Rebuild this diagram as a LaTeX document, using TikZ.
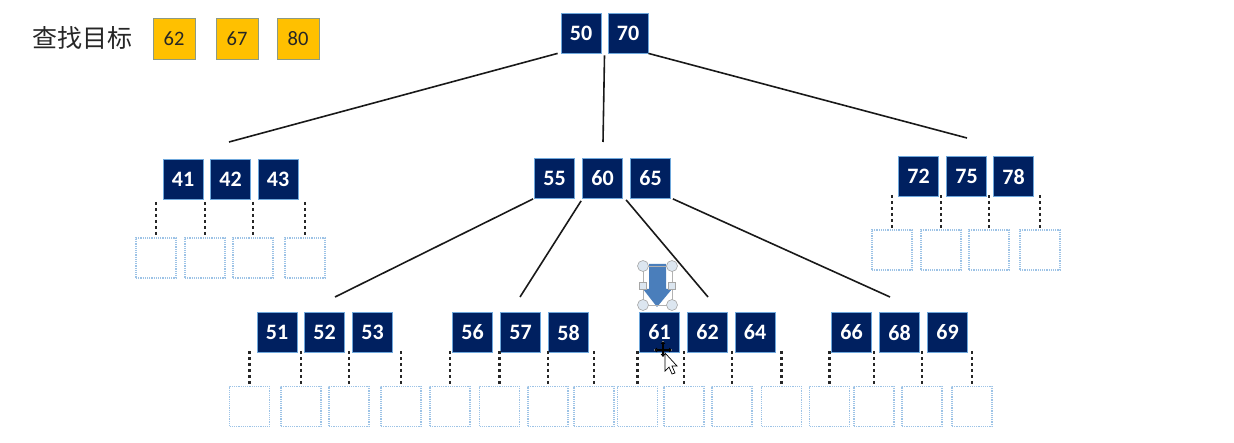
\documentclass[tikz,border=0pt]{standalone}
\usepackage{fontspec}
\setmainfont{Carlito}
\newfontfamily\cjk{Noto Sans CJK SC}
\usetikzlibrary{arrows.meta,calc}
\definecolor{navy}{HTML}{002060}
\definecolor{keyedge}{HTML}{6FA8DC}
\definecolor{leafedge}{HTML}{9DC3E6}
\definecolor{gold}{HTML}{FFC000}
\definecolor{goldedge}{HTML}{8C9A84}
\definecolor{arrowblue}{HTML}{4A7EBB}
\definecolor{handle}{HTML}{DCE6F0}
\tikzset{
  key/.style={draw=keyedge, line width=0.8pt, fill=navy, text=white, font=\fontsize{22}{22}\selectfont\bfseries,
    minimum width=40pt, minimum height=40pt, inner sep=0pt},
  leaf/.style={draw=leafedge, densely dotted, line width=1.2pt, minimum width=40pt, minimum height=40pt, inner sep=0pt},
  goal/.style={draw=goldedge, line width=0.8pt, fill=gold, text=black!85, font=\fontsize{20.5}{20.5}\selectfont,
    minimum width=42pt, minimum height=41pt, inner sep=0pt},
  treeline/.style={line width=1.6pt, black!90},
  dotline/.style={line width=2.6pt, dash pattern=on 2.8pt off 3.2pt, black!85},
  hcirc/.style={circle, draw=gray!70, fill=handle, line width=0.6pt, minimum size=11pt, inner sep=0pt},
  hsq/.style={rectangle, draw=gray!70, fill=handle, line width=0.6pt, minimum size=7pt, inner sep=0pt},
}
\begin{document}
\begin{tikzpicture}[x=1pt,y=-1pt]
\useasboundingbox (0,0) rectangle (1234,443);
% search target
\node[anchor=west, font=\cjk\fontsize{25}{25}\selectfont, text=black!85, inner sep=0pt] (title) at (32,38) {查找目标};
\node[goal] (g1) at (174,39) {62};
\node[goal] (g2) at (237,39) {67};
\node[goal] (g3) at (298,39) {80};
% root
\node[key] (k50) at (581,33) {50};
\node[key] (k70) at (628,33) {70};
% level 1
\node[key] (k41) at (183,179.5) {41};
\node[key] (k42) at (230.5,179.5) {42};
\node[key] (k43) at (278,179.5) {43};
\node[key] (k55) at (554.5,178.5) {55};
\node[key] (k60) at (602.5,178.5) {60};
\node[key] (k65) at (650.5,178.5) {65};
\node[key] (k72) at (918.5,176.5) {72};
\node[key] (k75) at (966.5,176.5) {75};
\node[key] (k78) at (1013.5,176.5) {78};
% level 2
\node[key] (k51) at (277,332.5) {51};
\node[key] (k52) at (324.5,332.5) {52};
\node[key] (k53) at (372.5,332.5) {53};
\node[key] (k56) at (472.5,332.5) {56};
\node[key] (k57) at (520.5,332.5) {57};
\node[key] (k58) at (568.5,332.5) {58};
\node[key] (k61) at (659.5,332.5) {61};
\node[key] (k62) at (707.5,332.5) {62};
\node[key] (k64) at (755,332.5) {64};
\node[key] (k66) at (851.5,332.5) {66};
\node[key] (k68) at (899.5,332.5) {68};
\node[key] (k69) at (947.5,332.5) {69};
% tree lines
\coordinate (e1) at (229,142);
\coordinate (e2) at (603,142);
\coordinate (e3) at (967,138);
\coordinate (s1) at ($(k50.south west)+(-3,0)$);
\coordinate (s2) at ($(k50.south east)!0.5!(k70.south west)+(0,2)$);
\draw[treeline] (s1) -- (e1);
\draw[treeline] (s2) -- (e2);
\draw[treeline] (k70.south east) -- (e3);
\coordinate (f1) at (335,297);
\coordinate (f2) at (520,297);
\coordinate (f3) at (708,297);
\coordinate (f4) at (890,297);
\draw[treeline] ($(k55.south west)+(-1,0)$) -- (f1);
\draw[treeline] ($(k60.south west)+(-1,2)$) -- (f2);
\draw[treeline] ($(k65.south west)+(-4,1)$) -- (f3);
\draw[treeline] ($(k65.south east)+(2,0)$) -- (f4);
% leaves with dotted pointers
\foreach \n/\x/\y/\t in {L1/156/258/202, L2/205/258/202, L3/253/258/202, L4/305/258/202,
  R1/892/250/195, R2/941/250/195, R3/989/250/195, R4/1040/250/195,
  A1/249.5/406.5/351, A2/301/406.5/351, A3/349/406.5/351, A4/401/406.5/351,
  B1/450/406.5/351, B2/499.5/406.5/351, B3/548/406.5/351, B4/594/406.5/351,
  C1/637.5/406.5/351, C2/684/406.5/351, C3/732/406.5/351, C4/781.5/406.5/351,
  D1/829.5/406.5/351, D2/874/406.5/351, D3/922/406.5/351, D4/972/406.5/351}{
  \node[leaf] (leaf\n) at (\x,\y) {};
  \coordinate (p\n) at (\x,\t);
  \draw[dotline] (p\n) -- (leaf\n.north);
}
% selected down arrow
\fill[arrowblue] (649,264) -- (666,264) -- (666,289) -- (672,289) -- (657,307) -- (643,289) -- (649,289) -- cycle;
\draw[gray!60, line width=0.5pt] (643,266) rectangle (672,305);
\node[hcirc] (h1) at (643,266) {};
\node[hcirc] (h2) at (672,266) {};
\node[hcirc] (h3) at (643,305) {};
\node[hcirc] (h4) at (672,305) {};
\node[hsq] (h5) at (643,285.5) {};
\node[hsq] (h6) at (672,285.5) {};
% mouse cursor
\begin{scope}[shift={(663,350)}]
  \foreach \dx/\dy in {0/-9, -9/0, 9/0, 0/7}{
    \draw[white, line width=2.6pt] (0,0) -- (\dx,\dy);
  }
  \foreach \dx/\dy in {0/-9, -9/0, 9/0, 0/7}{
    \draw[black, line width=1.1pt, -{Triangle[length=3pt,width=4.5pt]}] (0,0) -- (\dx,\dy);
  }
  \filldraw[fill=white, draw=black, line width=0.7pt] (2,3) -- (2,21) -- (6,17) -- (9,24) -- (12,23) -- (9,16) -- (14,16) -- cycle;
\end{scope}
\end{tikzpicture}
\end{document}
